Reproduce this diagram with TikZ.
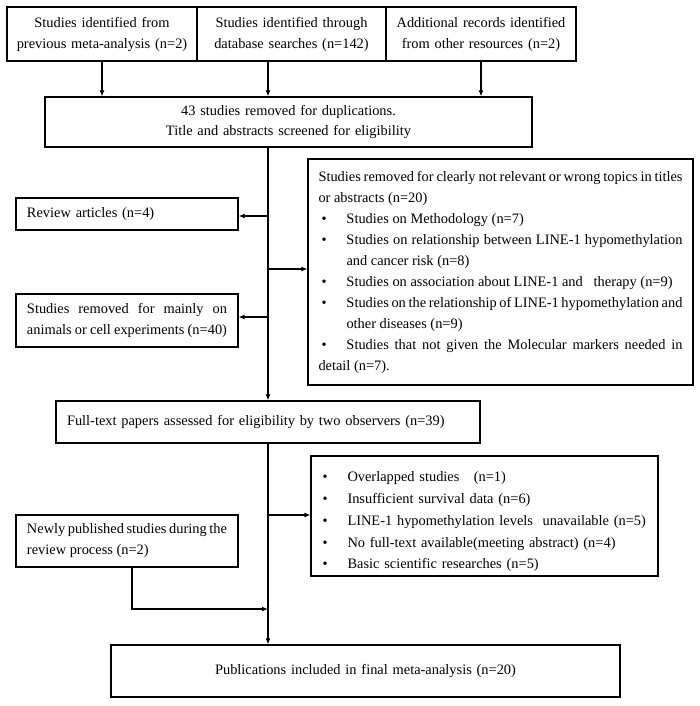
\documentclass[tikz,border=0pt]{standalone}
\usepackage{fontspec}
\setmainfont{Liberation Serif}
\usetikzlibrary{arrows.meta}
\hyphenpenalty=10000
\exhyphenpenalty=10000
\newcommand{\bul}[2][0pt]{\par\hangindent=\dimexpr#1+25pt\relax\hangafter=1\noindent\hspace*{#1}\makebox[25pt][l]{\textbullet}#2}

\begin{document}
\begin{tikzpicture}[x=1pt,y=1pt,font=\fontsize{14.4}{21}\selectfont,
box/.style 2 args={draw, line width=1.2pt, inner sep=0pt, minimum width=#1, minimum height=#2},
arr/.style={-{Latex[length=6pt,width=5pt]}, line width=1.2pt},
line/.style={line width=1.2pt}]
\useasboundingbox (0,0) rectangle (700,-706);
% sources
\node[box={190pt}{54pt}, text width=184pt, align=center] (prev) at (102,-34) {Studies identified from\\previous meta-analysis (n=2)};
\node[box={189pt}{54pt}, text width=184pt, align=center] (dbase) at (291.5,-34) {Studies identified through\\database searches (n=142)};
\node[box={190pt}{54pt}, text width=184pt, align=center] (other) at (481,-34) {Additional records identified\\from other resources (n=2)};
\node[box={487pt}{50pt}, text width=470pt, align=center, font=\fontsize{14.4}{20}\selectfont] (dup) at (288.5,-122) {43 studies removed for duplications.\\Title and abstracts screened for eligibility};
% excluded at screening
\node[box={222pt}{32pt}, text width=200pt, align=left] (review) at (127,-214) {Review articles (n=4)};
\node[box={222pt}{53pt}, text width=200pt, align=justify] (animal) at (127,-320.5) {Studies removed for mainly on animals or cell experiments (n=40)};
\node[box={385pt}{226pt}, text width=364pt, align=justify] (topics) at (500.5,-272) {Studies removed for clearly not relevant or wrong topics in titles or abstracts (n=20)
\bul[3pt]{Studies on Methodology (n=7)}
\bul[3pt]{Studies on relationship between LINE-1 hypomethylation and cancer risk (n=8)}
\bul[3pt]{Studies on association about LINE-1 and \ \ therapy (n=9)}
\bul[3pt]{Studies on the relationship of LINE-1 hypomethylation and other diseases (n=9)}
\bul[3pt]{Studies that not given the Molecular markers needed in detail (n=7).}};
\node[box={424pt}{42pt}, text width=402pt, align=left] (full) at (268,-422) {Full-text papers assessed for eligibility by two observers (n=39)};
% excluded at full text
\node[box={347pt}{120pt}, text width=332pt, align=left, font=\fontsize{14.4}{21.7}\selectfont] (fexcl) at (484.5,-516) {\bul[4pt]{Overlapped studies \ \ (n=1)}
\bul[4pt]{Insufficient survival data (n=6)}
\bul[4pt]{LINE-1 hypomethylation levels \ unavailable (n=5)}
\bul[4pt]{No full-text available(meeting abstract) (n=4)}
\bul[4pt]{Basic scientific researches (n=5)}};
\node[box={222pt}{52pt}, text width=200pt, align=justify] (newly) at (127,-541) {Newly published studies during the review process (n=2)};
\node[box={509pt}{52pt}, text width=480pt, align=center] (final) at (365.5,-671) {Publications included in final meta-analysis (n=20)};
% connectors
\coordinate (m1) at (268,-216);
\coordinate (m2) at (268,-269);
\coordinate (m3) at (268,-317);
\coordinate (m4) at (268,-515);
\coordinate (m5) at (268,-609);
\draw[arr] (prev.south) -- (prev.south |- dup.north);
\draw[arr] (dbase.south -| full.north) -- (dup.north -| full.north);
\draw[arr] (other.south) -- (other.south |- dup.north);
\draw[arr] (dup.south -| full.north) -- (full.north);
\draw[arr] (m1) -- (m1 -| review.east);
\draw[arr] (m2) -- (m2 -| topics.west);
\draw[arr] (m3) -- (m3 -| animal.east);
\draw[arr] (full.south) -- (full.south |- final.north);
\draw[arr] (m4) -- (m4 -| fexcl.west);
\draw[arr] ([xshift=5pt]newly.south) |- (m5);
\end{tikzpicture}
\end{document}
